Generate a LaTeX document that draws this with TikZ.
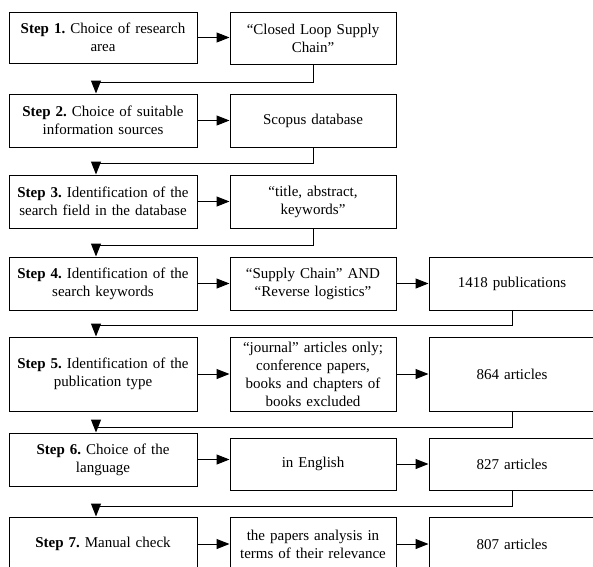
\documentclass[tikz,border=0pt]{standalone}
\usepackage{fontspec}
\setmainfont{Liberation Serif}
\frenchspacing
\usetikzlibrary{arrows.meta}
\tikzset{
  stepbox/.style={draw, line width=1pt, inner sep=0pt, align=center,
    font=\fontsize{15}{18}\selectfont},
  leftbox/.style={stepbox, minimum width=188pt, text width=182pt},
  midbox/.style={stepbox, minimum width=166pt, text width=160pt},
  arr/.style={line width=1pt, -{Triangle[length=13pt,width=10pt]}},
}
\begin{document}
\begin{tikzpicture}[x=1pt,y=-1pt]
  \useasboundingbox (0,0) rectangle (593,566);
  \clip (0,0) rectangle (593,566);
  %% Steps
  \node[leftbox, minimum height=51pt] (s1) at (103,37.5) {\textbf{Step 1.} Choice of research\\area};
  \node[leftbox, minimum height=53pt] (s2) at (103,120.5) {\textbf{Step 2.} Choice of suitable\\information sources};
  \node[leftbox, minimum height=53pt] (s3) at (103,201.5) {\textbf{Step 3.} Identification of the\\search field in the database};
  \node[leftbox, minimum height=53pt] (s4) at (103,283.5) {\textbf{Step 4.} Identification of the\\search keywords};
  \node[leftbox, minimum height=74pt] (s5) at (103,374) {\textbf{Step 5.} Identification of the\\publication type};
  \node[leftbox, minimum height=53pt] (s6) at (103,459.5) {\textbf{Step 6.} Choice of the\\language};
  \node[leftbox, minimum height=54pt] (s7) at (103,544) {\textbf{Step 7.} Manual check};
  %% Criteria
  \node[midbox, minimum height=52pt] (q1) at (313,38) {``Closed Loop Supply\\Chain''};
  \node[midbox, minimum height=53pt] (q2) at (313,120.5) {Scopus database};
  \node[midbox, minimum height=53pt] (q3) at (313,201.5) {``title, abstract,\\keywords''};
  \node[midbox, minimum height=53pt] (q4) at (313,283.5) {``Supply Chain'' AND\\``Reverse logistics''};
  \node[midbox, minimum height=74pt] (q5) at (313,374) {``journal'' articles only;\\conference papers,\\books and chapters of\\books excluded};
  \node[midbox, minimum height=52pt] (q6) at (313,464) {in English};
  \node[midbox, minimum height=54pt] (q7) at (313,544) {the papers analysis in\\terms of their relevance};
  %% Results
  \node[midbox, minimum height=53pt] (n4) at (512,283.5) {1418 publications};
  \node[midbox, minimum height=74pt] (n5) at (512,374) {864 articles};
  \node[midbox, minimum height=52pt] (n6) at (512,464) {827 articles};
  \node[midbox, minimum height=54pt] (n7) at (512,544) {807 articles};
  %% Arrows in each row
  \draw[arr] (s1.east) -- (s1.east -| q1.west);
  \draw[arr] (s2.east) -- (q2.west);
  \draw[arr] (s3.east) -- (q3.west);
  \draw[arr] (s4.east) -- (q4.west);
  \draw[arr] (q4.east) -- (n4.west);
  \draw[arr] (s5.east) -- (q5.west);
  \draw[arr] (q5.east) -- (n5.west);
  \draw[arr] (s6.east) -- (s6.east -| q6.west);
  \draw[arr] (q6.east) -- (n6.west);
  \draw[arr] (s7.east) -- (q7.west);
  \draw[arr] (q7.east) -- (n7.west);
  %% Arrows to the next step
  \draw[arr] (q1.south) -- ++(0,18) -| ([xshift=-7pt]s2.north);
  \draw[arr] (q2.south) -- ++(0,16) -| ([xshift=-7pt]s3.north);
  \draw[arr] (q3.south) -- ++(0,17) -| ([xshift=-7pt]s4.north);
  \draw[arr] (n4.south) -- ++(0,15) -| ([xshift=-7pt]s5.north);
  \draw[arr] (n5.south) -- ++(0,16) -| ([xshift=-7pt]s6.north);
  \draw[arr] (n6.south) -- ++(0,16) -| ([xshift=-7pt]s7.north);
\end{tikzpicture}
\end{document}
